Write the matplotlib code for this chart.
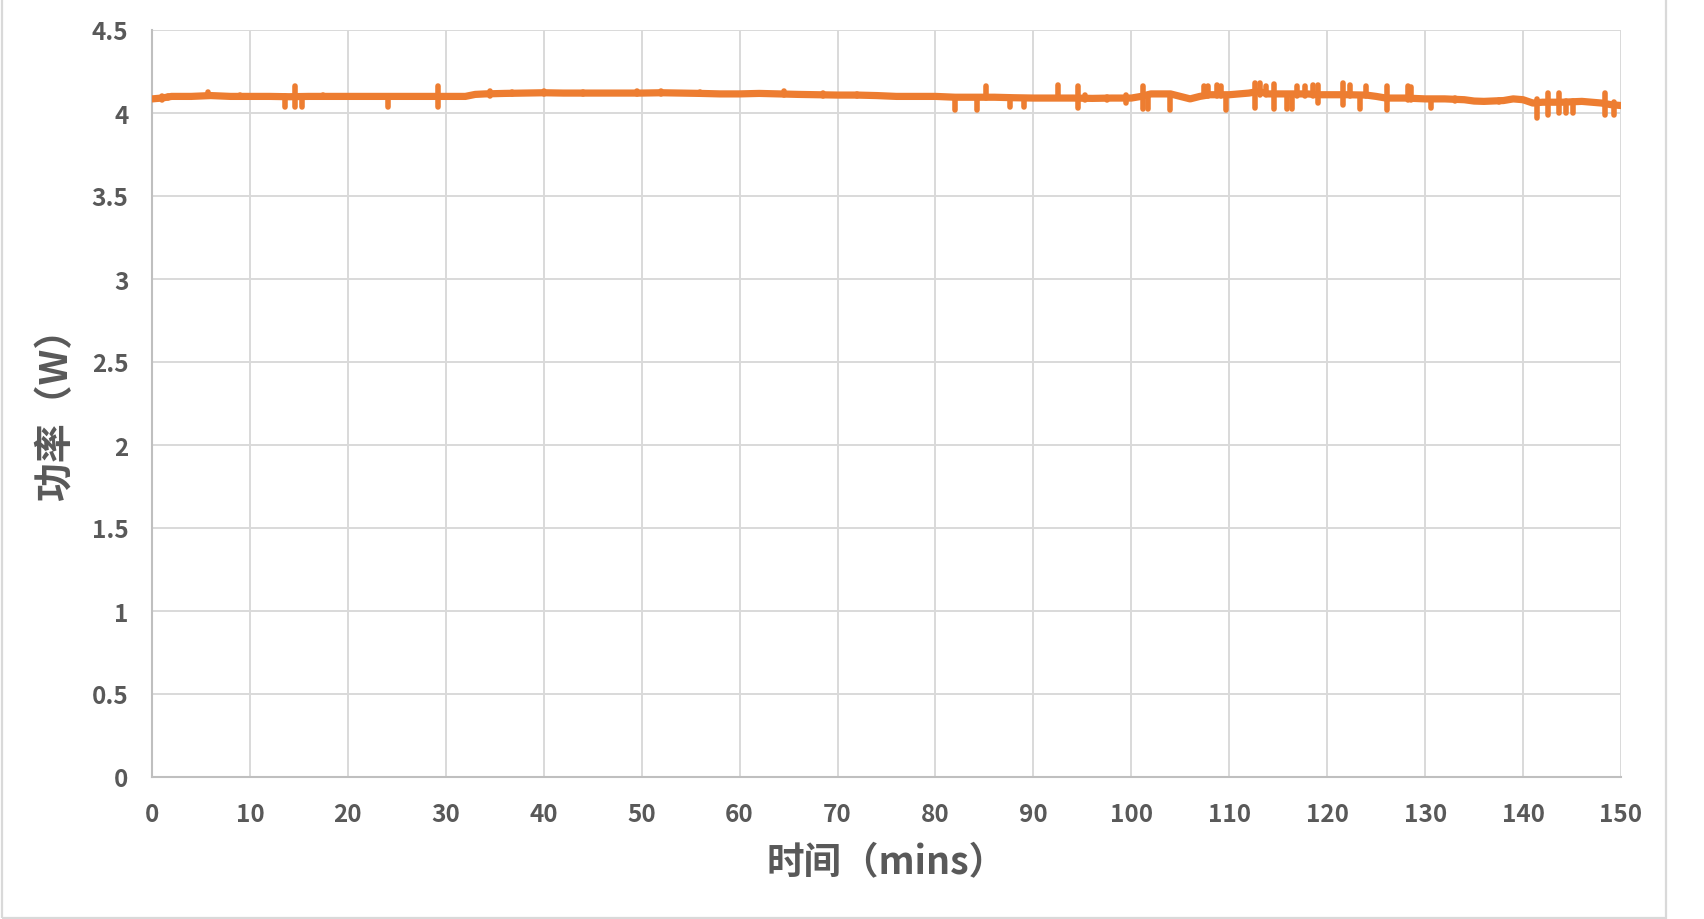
import matplotlib
matplotlib.use("Agg")
import matplotlib.pyplot as plt
from matplotlib.patches import Rectangle

# ---- data ----
base_t = [0, 1, 2, 4, 6, 8, 10, 12, 14, 16, 18, 20, 22, 24, 26, 28, 30, 32, 33, 34,
          36, 38, 40, 42, 44, 46, 48, 50, 52, 54, 56, 58, 60, 62, 64, 66, 68, 70, 72,
          74, 76, 78, 80, 82, 84, 86, 88, 90, 92, 94, 96, 98, 100, 101, 102, 104, 105,
          106, 107, 108, 110, 111, 112, 113, 114, 116, 118, 119, 120, 122, 124, 125,
          126, 128, 130, 132, 134, 135, 136, 138, 139, 140, 141, 142, 144, 146, 148,
          149, 150]
base_p = [4.085, 4.09, 4.10, 4.10, 4.105, 4.10, 4.10, 4.10, 4.098, 4.10, 4.10, 4.10,
          4.10, 4.10, 4.10, 4.10, 4.10, 4.10, 4.112, 4.115, 4.118, 4.12, 4.122, 4.12,
          4.12, 4.12, 4.12, 4.12, 4.122, 4.12, 4.118, 4.115, 4.115, 4.118, 4.115, 4.112,
          4.11, 4.108, 4.108, 4.105, 4.10, 4.10, 4.10, 4.095, 4.095, 4.095, 4.092, 4.09,
          4.09, 4.09, 4.088, 4.09, 4.09, 4.10, 4.115, 4.115, 4.10, 4.085, 4.10, 4.11,
          4.11, 4.115, 4.12, 4.13, 4.115, 4.115, 4.115, 4.11, 4.11, 4.11, 4.108, 4.10,
          4.09, 4.09, 4.085, 4.085, 4.08, 4.072, 4.07, 4.075, 4.085, 4.08, 4.06, 4.065,
          4.065, 4.07, 4.06, 4.05, 4.045]

spike_t = [1.0, 1.6, 5.7, 9.0, 13.6, 14.6, 15.3, 17.5, 24.1, 29.2, 34.5, 36.8, 40.0,
           44.0, 49.5, 52.0, 56.0, 64.5, 68.5, 72.0, 78.0, 82.0, 84.2, 85.2, 87.6,
           89.0, 92.5, 94.6, 95.3, 97.5, 99.5, 101.2, 101.7, 103.9, 107.4, 107.8,
           108.7, 109.2, 109.7, 112.6, 113.1, 113.8, 114.6, 115.9, 116.4, 116.9, 117.7,
           118.6, 119.1, 121.6, 122.3, 123.3, 124.0, 126.1, 128.2, 128.6, 130.6, 133.0,
           137.5, 141.4, 142.5, 143.7, 144.4, 145.1, 148.4, 149.3]
spike_lo = [4.08, 4.09, 4.10, 4.095, 4.035, 4.035, 4.035, 4.095, 4.035, 4.035, 4.10,
            4.115, 4.115, 4.112, 4.115, 4.115, 4.112, 4.11, 4.105, 4.102, 4.095, 4.02,
            4.02, 4.09, 4.034, 4.034, 4.09, 4.03, 4.08, 4.08, 4.06, 4.024, 4.024, 4.02,
            4.10, 4.10, 4.10, 4.10, 4.02, 4.03, 4.11, 4.11, 4.025, 4.025, 4.025, 4.10,
            4.10, 4.10, 4.06, 4.05, 4.10, 4.025, 4.10, 4.02, 4.08, 4.08, 4.03, 4.075,
            4.065, 3.97, 3.99, 4.00, 4.00, 4.00, 3.99, 3.99]
spike_hi = [4.10, 4.105, 4.125, 4.108, 4.10, 4.16, 4.10, 4.108, 4.10, 4.16, 4.13,
            4.128, 4.135, 4.128, 4.13, 4.135, 4.128, 4.13, 4.118, 4.115, 4.105, 4.095,
            4.095, 4.165, 4.09, 4.09, 4.167, 4.165, 4.11, 4.098, 4.11, 4.165, 4.11,
            4.115, 4.165, 4.165, 4.17, 4.165, 4.11, 4.18, 4.18, 4.165, 4.175, 4.115,
            4.115, 4.16, 4.165, 4.17, 4.17, 4.18, 4.17, 4.11, 4.16, 4.165, 4.165, 4.155,
            4.085, 4.09, 4.078, 4.085, 4.12, 4.12, 4.07, 4.07, 4.12, 4.065]

x_ticks = list(range(0, 151, 10))
y_ticks = [0, 0.5, 1, 1.5, 2, 2.5, 3, 3.5, 4, 4.5]
y_tick_labels = ["0", "0.5", "1", "1.5", "2", "2.5", "3", "3.5", "4", "4.5"]
x_label = "时间（mins）"
y_label = "功率（W）"

# ---- styling ----
plt.rcParams['font.family'] = ['Noto Sans CJK SC', 'DejaVu Sans']
W, H = 1704, 920
fig = plt.figure(figsize=(W / 100, H / 100), dpi=100)
ax = fig.add_axes([152 / W, 1 - 778 / H, (1621 - 152) / W, (778 - 31) / H])

orange = "#ED7D31"
ax.plot(base_t, base_p, color=orange, lw=5.2, solid_capstyle="round",
        solid_joinstyle="round", zorder=3)
ax.vlines(spike_t, spike_lo, spike_hi, color=orange, lw=4.0, capstyle="round",
          zorder=3)

ax.set_xlim(0, 150)
ax.set_ylim(0, 4.5)
ax.set_xticks(x_ticks)
ax.set_yticks(y_ticks)
ax.set_yticklabels(y_tick_labels)
ax.grid(True, color="#d9d9d9", lw=1.4, zorder=0)
ax.set_axisbelow(True)
for s in ["top", "right"]:
    ax.spines[s].set_visible(False)
for s in ["left", "bottom"]:
    ax.spines[s].set_color("#bfbfbf")
    ax.spines[s].set_linewidth(1.5)
ax.tick_params(length=0, labelcolor="#595959", labelsize=17.5)
ax.tick_params(axis="y", pad=17)
ax.tick_params(axis="x", pad=18)
for lab in ax.get_xticklabels() + ax.get_yticklabels():
    lab.set_fontweight("bold")

ax.set_xlabel(x_label, fontsize=27, color="#595959", fontweight="bold", labelpad=12)
ax.set_ylabel(y_label, fontsize=28, color="#595959", fontweight="bold", labelpad=12)

# outer chart-area frame
fig.patches.append(Rectangle((2 / W, 1 / H), (1666 - 2) / W, 1.2, transform=fig.transFigure,
                             fill=False, edgecolor="#d9d9d9", lw=1.6))

fig.savefig("out.png", dpi=100, facecolor="white")
